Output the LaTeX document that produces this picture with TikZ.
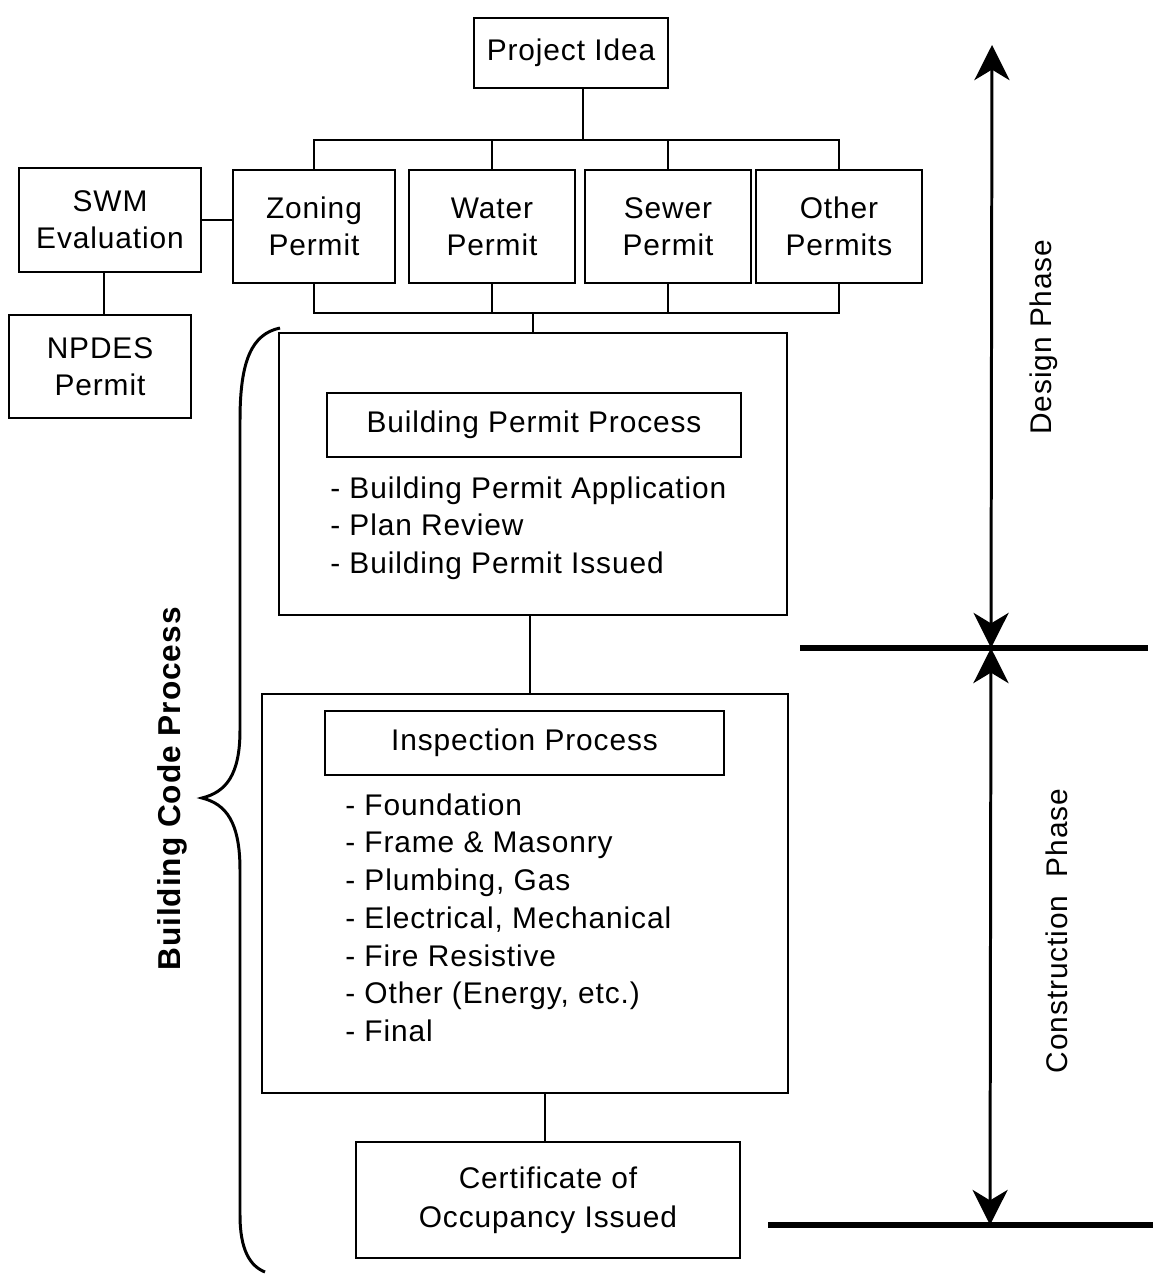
\documentclass[tikz,border=0pt]{standalone}
\usepackage{fontspec}
\setmainfont{Liberation Sans}[LetterSpace=3]
\usetikzlibrary{arrows.meta, calc}

\begin{document}
\begin{tikzpicture}[x=0.02cm, y=-0.02cm, >={Stealth[length=20pt, width=20pt, inset=6pt]},
		box/.style={draw, line width=1pt, inner sep=0pt, align=center,
			font=\fontsize{17pt}{21pt}\selectfont},
		permit/.style={box, minimum width=3.32cm, minimum height=2.26cm},
		steplist/.style={anchor=north west, inner sep=0pt, align=left,
			font=\fontsize{17pt}{21.5pt}\selectfont},
		link/.style={line width=1pt},
		phase/.style={rotate=90, font=\fontsize{17pt}{21pt}\selectfont}]
		% 画布范围
		\useasboundingbox (0,0) rectangle (1153,1275);
		
		% 项目起点与各类许可
		\node[box, minimum width=3.88cm, minimum height=1.4cm] (idea) at (571,53) {Project Idea};
		\node[permit, minimum width=3.24cm] (zoning) at (314,226.5) {Zoning\\Permit};
		\node[permit] (water) at (492,226.5) {Water\\Permit};
		\node[permit] (sewer) at (668,226.5) {Sewer\\Permit};
		\node[permit] (other) at (839,226.5) {Other\\Permits};
		
		% 左侧雨水管理
		\node[box, minimum width=3.64cm, minimum height=2.08cm] (swm) at (110,220) {SWM\\Evaluation};
		\node[box, minimum width=3.64cm, minimum height=2.06cm] (npdes) at (100,366.5) {NPDES\\Permit};
		
		% 建筑许可流程
		\node[box, minimum width=10.16cm, minimum height=5.64cm] (bpbox) at (533,474) {};
		\node[box, minimum width=8.28cm, minimum height=1.28cm] (bptitle) at (534,425) {Building Permit Process};
		\node[steplist] (bplist) at (330,476) {- Building Permit Application\\- Plan Review\\- Building Permit Issued};
		
		% 检查流程
		\node[box, minimum width=10.52cm, minimum height=7.98cm] (inbox) at (525,893.5) {};
		\node[box, minimum width=7.98cm, minimum height=1.28cm] (intitle) at (524.5,743) {Inspection Process};
		\node[steplist] (inlist) at (345,793) {- Foundation\\- Frame \& Masonry\\- Plumbing, Gas\\- Electrical, Mechanical\\- Fire Resistive\\- Other (Energy, etc.)\\- Final};
		
		% 入住证书
		\node[box, minimum width=7.68cm, minimum height=2.32cm, font=\fontsize{17pt}{22pt}\selectfont] (cert) at (548,1200) {Certificate of\\Occupancy Issued};
		
		% 连线:上方总线与下方总线
		\coordinate (topbus) at (583,140);
		\coordinate (botbus) at (533,313);
		\draw[link] (idea.south -| topbus) -- (topbus);
		\draw[link] (zoning.north) |- (topbus) -| (other.north);
		\draw[link] (water.north) -- (water.north |- topbus);
		\draw[link] (sewer.north) -- (sewer.north |- topbus);
		\draw[link] (zoning.south) |- (botbus) -| (other.south);
		\draw[link] (water.south) -- (water.south |- botbus);
		\draw[link] (sewer.south) -- (sewer.south |- botbus);
		\draw[link] (botbus) -- (botbus |- bpbox.north);
		\draw[link] (swm.east) -- (swm.east -| zoning.west);
		\draw[link] (swm.south -| 104,0) -- (npdes.north -| 104,0);
		\draw[link] (bpbox.south -| 530,0) -- (inbox.north -| 530,0);
		\draw[link] (inbox.south -| 545,0) -- (cert.north -| 545,0);
		
		% 左侧大括号
		\draw[line width=1.7pt] (280,328) .. controls (252,334) and (240,360) .. (240,420)
		-- (240,730) .. controls (240,775) and (226,792) .. (202,798)
		.. controls (226,804) and (240,822) .. (240,870)
		-- (240,1215) .. controls (240,1250) and (250,1266) .. (265,1272);
		\node[rotate=90, font=\fontsize{18pt}{22pt}\selectfont\bfseries] (bcp) at (172,789) {Building Code Process};
		
		% 右侧阶段标注
		\coordinate (dtop) at (992,45);
		\coordinate (dmid) at (991,648);
		\coordinate (dbot) at (990,1225);
		\draw[<->, line width=1.7pt] (dtop) -- (dmid);
		\draw[<->, line width=1.7pt] (dmid) -- (dbot);
		\draw[line width=3pt] (800,648) -- (1148,648);
		\draw[line width=3pt] (768,1225) -- (1153,1225);
		\node[phase] (design) at (1044,337) {Design Phase};
		\node[phase] (construct) at (1057,931) {Construction\ \ Phase};
	\end{tikzpicture}
\end{document}
